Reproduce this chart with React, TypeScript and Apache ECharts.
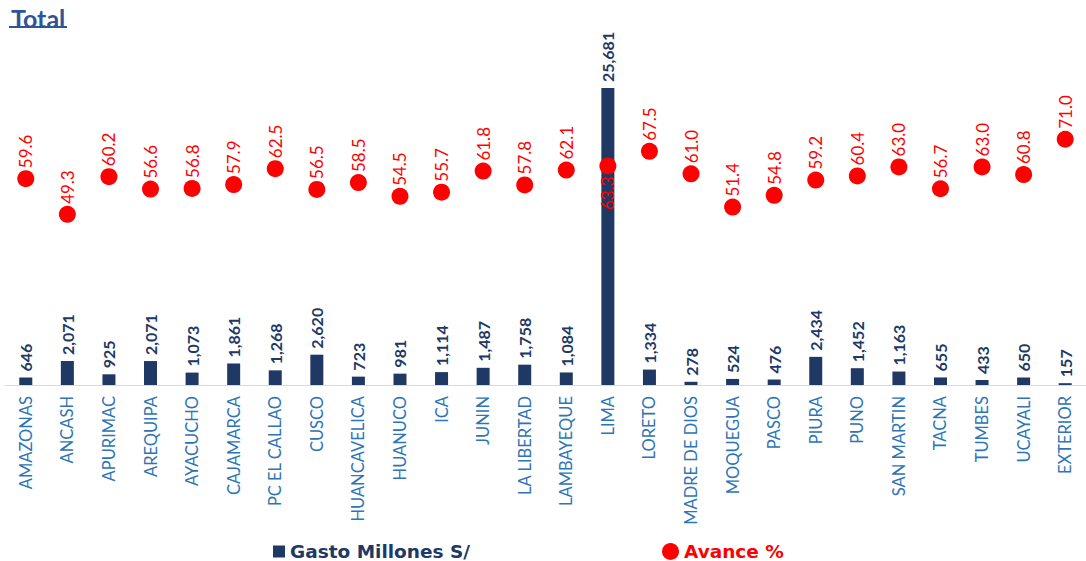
import React, { useEffect, useRef } from "react";
import * as echarts from "echarts";

const categories = ["AMAZONAS","ANCASH","APURIMAC","AREQUIPA","AYACUCHO","CAJAMARCA","PC EL CALLAO","CUSCO","HUANCAVELICA","HUANUCO","ICA","JUNIN","LA LIBERTAD","LAMBAYEQUE","LIMA","LORETO","MADRE DE DIOS","MOQUEGUA","PASCO","PIURA","PUNO","SAN MARTIN","TACNA","TUMBES","UCAYALI","EXTERIOR"];
const gasto = [646,2071,925,2071,1073,1861,1268,2620,723,981,1114,1487,1758,1084,25681,1334,278,524,476,2434,1452,1163,655,433,650,157];
const avance = [59.6,49.3,60.2,56.6,56.8,57.9,62.5,56.5,58.5,54.5,55.7,61.8,57.8,62.1,63.3,67.5,61.0,51.4,54.8,59.2,60.4,63.0,56.7,63.0,60.8,71.0];
const labelBelow = ["LIMA"];

const FONT = "Lato, 'Open Sans', sans-serif";
const LEGEND_FONT = "'DejaVu Sans', Verdana, sans-serif";
const NAVY = "#203864";
const RED = "#ff0000";
const BLUE = "#2e75b6";

export default function App() {
  const ref = useRef<HTMLDivElement>(null);
  useEffect(() => {
    const chart = echarts.init(ref.current!, null, { renderer: "svg" });
    const fmt = (v: number) => v.toLocaleString("en-US");
    chart.setOption({
      animation: false,
      textStyle: { fontFamily: FONT },
      title: {
        text: "Total",
        left: 6,
        top: 0,
        textStyle: { color: "#2f5597", fontSize: 25, fontWeight: "bold", fontFamily: FONT },
      },
      graphic: [
        { type: "line", shape: { x1: 9, y1: 27, x2: 67, y2: 27 }, style: { stroke: "#2f5597", lineWidth: 2 } },
      ],
      legend: [
        {
          data: ["Gasto Millones S/"],
          left: 268,
          top: 537,
          icon: "rect",
          itemWidth: 12,
          itemHeight: 12,
          itemGap: 6,
          textStyle: { color: NAVY, fontSize: 18.5, fontWeight: "bold", fontFamily: LEGEND_FONT },
        },
        {
          data: ["Avance %"],
          left: 657,
          top: 537,
          icon: "circle",
          itemWidth: 17,
          itemHeight: 17,
          itemGap: 4,
          textStyle: { color: RED, fontSize: 18.5, fontWeight: "bold", fontFamily: LEGEND_FONT },
        },
      ],
      grid: { left: 5, right: -5, top: 60, height: 325, containLabel: false },
      xAxis: {
        type: "category",
        data: categories,
        axisLine: { show: true, lineStyle: { color: "#d9d9d9", width: 1 } },
        axisTick: { show: false },
        axisLabel: {
          rotate: 90,
          interval: 0,
          margin: 11,
          color: BLUE,
          fontSize: 16.5,
          fontFamily: FONT,
        },
      },
      yAxis: [
        { type: "value", min: 0, max: 28100, show: false, splitLine: { show: false } },
        { type: "value", min: 0, max: 93.9, show: false, splitLine: { show: false } },
      ],
      series: [
        {
          name: "Gasto Millones S/",
          type: "bar",
          data: gasto,
          barWidth: 13,
          itemStyle: { color: NAVY },
          label: {
            show: true,
            position: "top",
            rotate: 90,
            align: "left",
            verticalAlign: "middle",
            distance: 6,
            color: NAVY,
            fontSize: 16,
            fontWeight: "bold",
            fontFamily: FONT,
            formatter: (p: any) => fmt(p.value),
          },
        },
        {
          name: "Avance %",
          type: "scatter",
          yAxisIndex: 1,
          symbol: "circle",
          symbolSize: 17,
          z: 5,
          itemStyle: { color: RED, opacity: 1 },
          data: avance.map((v, i) =>
            labelBelow.includes(categories[i])
              ? { value: v, label: { position: "bottom", align: "right", distance: 2 } }
              : v
          ),
          label: {
            show: true,
            position: "top",
            rotate: 90,
            align: "left",
            verticalAlign: "middle",
            distance: 2,
            color: RED,
            fontSize: 17,
            fontFamily: FONT,
            formatter: (p: any) => Number(p.value).toFixed(1),
          },
        },
      ],
    });
    return () => chart.dispose();
  }, []);
  return (
    <div
      ref={ref}
      style={{ position: "fixed", left: 0, top: 0, width: 1086, height: 561, background: "#fff" }}
    />
  );
}
